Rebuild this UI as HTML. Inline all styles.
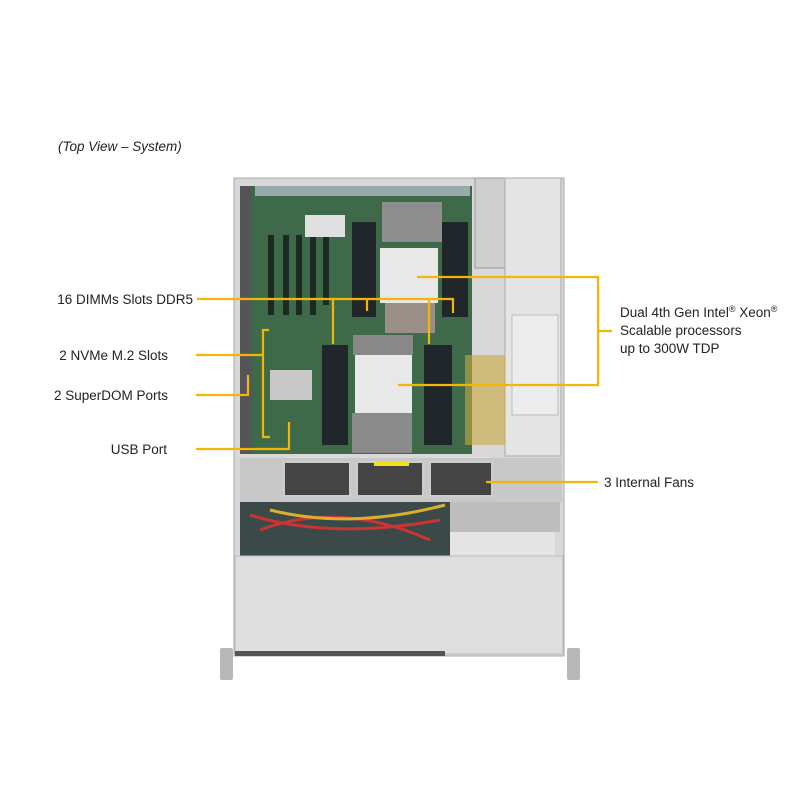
<!DOCTYPE html>
<html><head><meta charset="utf-8"><style>
html,body{margin:0;padding:0;background:#fff}
svg{display:block}
text{font-family:"Liberation Sans",sans-serif;font-size:13.5px;fill:#222}
</style></head><body>
<svg width="800" height="800" viewBox="0 0 800 800" xmlns="http://www.w3.org/2000/svg">
<rect width="800" height="800" fill="#fff"/>
<text x="58" y="151" font-style="italic" font-size="13">(Top View – System)</text>
<!-- handles -->
<rect x="220" y="648" width="13" height="32" fill="#b8b8b8" rx="2"/>
<rect x="567" y="648" width="13" height="32" fill="#b8b8b8" rx="2"/>
<!-- chassis -->
<rect x="234" y="178" width="330" height="478" fill="#d8d8d8" stroke="#aaa"/>
<!-- motherboard -->
<rect x="252" y="186" width="220" height="268" fill="#3e6a4a"/>
<rect x="240" y="186" width="12" height="268" fill="#555"/>
<rect x="255" y="186" width="215" height="10" fill="#9aa"/>
<!-- expansion slots -->
<g fill="#1d2a22"><rect x="268" y="235" width="6" height="80"/><rect x="283" y="235" width="6" height="80"/><rect x="296" y="235" width="6" height="80"/><rect x="310" y="235" width="6" height="80"/><rect x="323" y="235" width="6" height="70"/></g>
<rect x="305" y="215" width="40" height="22" fill="#e0e0e0"/>
<!-- DIMMs -->
<g fill="#20262a"><rect x="352" y="222" width="24" height="95"/><rect x="442" y="222" width="26" height="95"/><rect x="322" y="345" width="26" height="100"/><rect x="424" y="345" width="28" height="100"/></g>
<!-- CPUs -->
<rect x="382" y="202" width="60" height="40" fill="#8e8e8e"/>
<rect x="380" y="248" width="58" height="55" fill="#e8e8e8"/>
<rect x="385" y="303" width="50" height="30" fill="#9a8f88"/>
<rect x="353" y="335" width="60" height="20" fill="#888"/>
<rect x="355" y="355" width="57" height="58" fill="#e8e8e8"/>
<rect x="352" y="413" width="60" height="40" fill="#8a8a8a"/>
<rect x="270" y="370" width="42" height="30" fill="#c8c8c8"/>
<!-- PSU area -->
<rect x="475" y="178" width="30" height="90" fill="#cfcfcf" stroke="#999"/>
<rect x="505" y="178" width="56" height="278" fill="#e4e4e4" stroke="#aaa"/>
<rect x="512" y="315" width="46" height="100" fill="#ececec" stroke="#bbb"/>
<rect x="465" y="355" width="40" height="90" fill="#c9a840" opacity="0.6"/>
<!-- fans -->
<rect x="240" y="458" width="322" height="44" fill="#c8c8c8"/>
<rect x="284" y="462" width="66" height="34" fill="#444" stroke="#ccc" stroke-width="2"/>
<rect x="357" y="462" width="66" height="34" fill="#444" stroke="#ccc" stroke-width="2"/>
<rect x="430" y="462" width="62" height="34" fill="#444" stroke="#ccc" stroke-width="2"/>
<rect x="374" y="461" width="35" height="5" fill="#f0e020"/>
<!-- cables -->
<rect x="240" y="502" width="210" height="54" fill="#3b4a48"/>
<rect x="450" y="502" width="110" height="30" fill="#bdbdbd"/>
<rect x="450" y="532" width="105" height="24" fill="#e4e4e4"/>
<path d="M250 515 Q330 540 440 520 M260 530 Q340 500 430 540" stroke="#c33" stroke-width="3" fill="none"/>
<path d="M270 510 Q350 530 445 505" stroke="#d8b030" stroke-width="3" fill="none"/>
<!-- front bay -->
<rect x="235" y="556" width="328" height="98" fill="#dedede" stroke="#bbb"/>
<rect x="235" y="651" width="210" height="5" fill="#555"/>
<!-- yellow callouts -->
<g stroke="#f2b705" stroke-width="2.2" fill="none">
<path d="M197 299 H454 M333 299 V344 M367 299 V311 M429 299 V344 M453 299 V313"/>
<path d="M196 355 H263 M269 330 H263 V437 H270"/>
<path d="M196 395 H248 V375"/>
<path d="M196 449 H289 V422"/>
<path d="M417 277 H598 V385 H398 M598 331 H612"/>
<path d="M486 482 H598"/>
</g>
<text x="193" y="304" text-anchor="end">16 DIMMs Slots DDR5</text>
<text x="168" y="360" text-anchor="end">2 NVMe M.2 Slots</text>
<text x="168" y="400" text-anchor="end">2 SuperDOM Ports</text>
<text x="167" y="454" text-anchor="end">USB Port</text>
<text x="620" y="317">Dual 4th Gen Intel<tspan font-size="9" dy="-5">®</tspan><tspan dy="5"> Xeon</tspan><tspan font-size="9" dy="-5">®</tspan></text>
<text x="620" y="335">Scalable processors</text>
<text x="620" y="353">up to 300W TDP</text>
<text x="604" y="487">3 Internal  Fans</text>
</svg>
</body></html>
